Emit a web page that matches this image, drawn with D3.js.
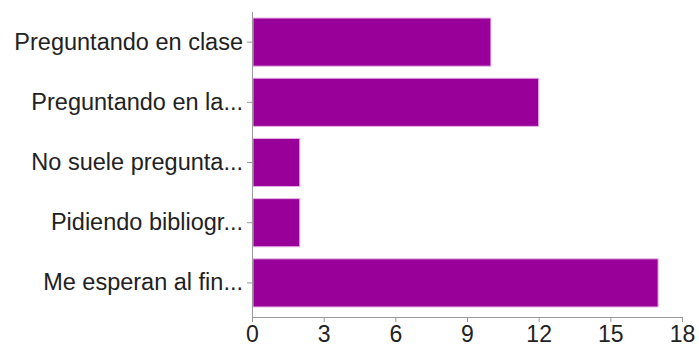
<!DOCTYPE html>
<html>
<head>
<meta charset="utf-8">
<script src="https://cdn.jsdelivr.net/npm/d3@7"></script>
<style>
  body { margin: 0; background: #fff; }
  text { font-family: "Liberation Sans", Arial, sans-serif; }
</style>
</head>
<body>
<script>
// datos del gráfico
var categorias = ["Preguntando en clase", "Preguntando en la...", "No suele pregunta...", "Pidiendo bibliogr...", "Me esperan al fin..."];
var valores = [10, 12, 2, 2, 17];
var ticksX = [0, 3, 6, 9, 12, 15, 18];

var ancho = 699, alto = 347;
var izq = 252, der = 682, arriba = 12, abajo = 317;

var svg = d3.select("body").append("svg").attr("width", ancho).attr("height", alto);

var x = d3.scaleLinear().domain([0, 18]).range([izq, der]);
var y = d3.scaleBand().domain(categorias).range([arriba, 313]).paddingInner(0.2).paddingOuter(0.1);

// barras
svg.selectAll("rect.barra")
    .data(valores)
    .enter()
    .append("rect")
    .attr("class", "barra")
    .attr("x", x(0) + 1)
    .attr("y", function (d, i) { return y(categorias[i]); })
    .attr("width", function (d) { return x(d) - x(0) - 1; })
    .attr("height", y.bandwidth())
    .attr("fill", "#990099")
    .attr("stroke", "#e6b3e6")
    .attr("stroke-width", 1);

// eje x
var ejeX = svg.append("g")
    .attr("transform", "translate(0," + abajo + ")")
    .call(d3.axisBottom(x).tickValues(ticksX).tickSize(5).tickSizeOuter(0).tickPadding(4));
ejeX.select(".domain").attr("stroke", "#999");
ejeX.selectAll(".tick line").attr("stroke", "#999");
ejeX.selectAll(".tick text").attr("font-size", 23).attr("fill", "#222")
    .attr("font-family", "Liberation Sans, Arial, sans-serif");

// eje y
var ejeY = svg.append("g")
    .attr("transform", "translate(" + izq + ",0)")
    .call(d3.axisLeft(y).tickSize(5).tickSizeOuter(0).tickPadding(4));
ejeY.select(".domain").attr("d", "M0.5," + arriba + "V" + abajo).attr("stroke", "#999");
ejeY.selectAll(".tick line").attr("stroke", "#999");
ejeY.selectAll(".tick text").attr("font-size", 23.5).attr("fill", "#222")
    .attr("font-family", "Liberation Sans, Arial, sans-serif");
</script>
</body>
</html>
